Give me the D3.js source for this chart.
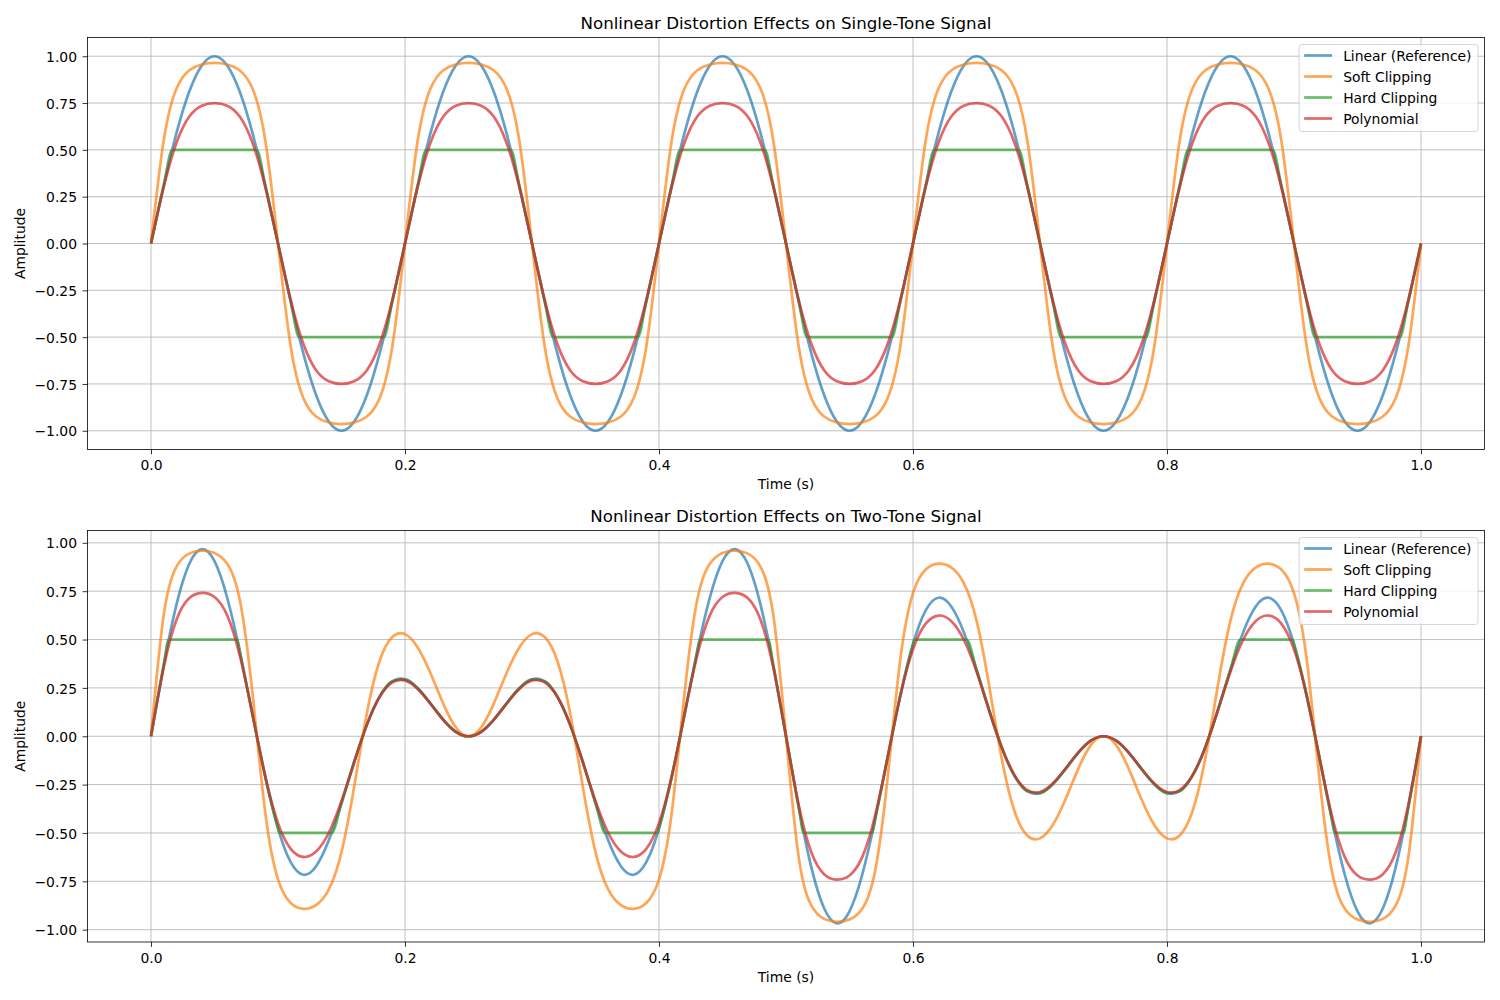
<!DOCTYPE html>
<html>
<head>
<meta charset="utf-8">
<script src="https://cdn.jsdelivr.net/npm/d3@7"></script>
<style>
	body { margin: 0; background: #fff; }
	svg { display: block; font-family: "DejaVu Sans", sans-serif; }
</style>
</head>
<body>
<svg id="chart" width="1500" height="1000"></svg>
<script>
var aSeriesNames = ["Linear (Reference)", "Soft Clipping", "Hard Clipping", "Polynomial"];
var aSeriesColors = ["#1f77b4", "#ff7f0e", "#2ca02c", "#d62728"];
var aTitles = ["Nonlinear Distortion Effects on Single-Tone Signal", "Nonlinear Distortion Effects on Two-Tone Signal"];
var aXTicks = [0, 0.2, 0.4, 0.6, 0.8, 1.0];
var aYTicks = [-1, -0.75, -0.5, -0.25, 0, 0.25, 0.5, 0.75, 1];

// sample times shared by the smooth curves
var aTime = [
	0, 0.01, 0.02, 0.03, 0.04, 0.05, 0.06, 0.07, 0.08, 0.09, 0.1, 0.11, 0.12, 0.13, 0.14, 0.15, 0.16, 0.17, 0.18, 0.19,
	0.2, 0.21, 0.22, 0.23, 0.24, 0.25, 0.26, 0.27, 0.28, 0.29, 0.3, 0.31, 0.32, 0.33, 0.34, 0.35, 0.36, 0.37, 0.38, 0.39,
	0.4, 0.41, 0.42, 0.43, 0.44, 0.45, 0.46, 0.47, 0.48, 0.49, 0.5, 0.51, 0.52, 0.53, 0.54, 0.55, 0.56, 0.57, 0.58, 0.59,
	0.6, 0.61, 0.62, 0.63, 0.64, 0.65, 0.66, 0.67, 0.68, 0.69, 0.7, 0.71, 0.72, 0.73, 0.74, 0.75, 0.76, 0.77, 0.78, 0.79,
	0.8, 0.81, 0.82, 0.83, 0.84, 0.85, 0.86, 0.87, 0.88, 0.89, 0.9, 0.91, 0.92, 0.93, 0.94, 0.95, 0.96, 0.97, 0.98, 0.99,
	1
];

// single tone, top panel
var aSingleLinear = [
	0, 0.309, 0.588, 0.809, 0.951, 1, 0.951, 0.809, 0.588, 0.309, 0, -0.309, -0.588, -0.809, -0.951, -1, -0.951, -0.809, -0.588, -0.309,
	0, 0.309, 0.588, 0.809, 0.951, 1, 0.951, 0.809, 0.588, 0.309, 0, -0.309, -0.588, -0.809, -0.951, -1, -0.951, -0.809, -0.588, -0.309,
	0, 0.309, 0.588, 0.809, 0.951, 1, 0.951, 0.809, 0.588, 0.309, 0, -0.309, -0.588, -0.809, -0.951, -1, -0.951, -0.809, -0.588, -0.309,
	0, 0.309, 0.588, 0.809, 0.951, 1, 0.951, 0.809, 0.588, 0.309, 0, -0.309, -0.588, -0.809, -0.951, -1, -0.951, -0.809, -0.588, -0.309,
	0, 0.309, 0.588, 0.809, 0.951, 1, 0.951, 0.809, 0.588, 0.309, 0, -0.309, -0.588, -0.809, -0.951, -1, -0.951, -0.809, -0.588, -0.309,
	0
];
var aSingleSoft = [
	0, 0.550, 0.826, 0.924, 0.956, 0.964, 0.956, 0.924, 0.826, 0.550, 0, -0.550, -0.826, -0.924, -0.956, -0.964, -0.956, -0.924, -0.826, -0.550,
	0, 0.550, 0.826, 0.924, 0.956, 0.964, 0.956, 0.924, 0.826, 0.550, 0, -0.550, -0.826, -0.924, -0.956, -0.964, -0.956, -0.924, -0.826, -0.550,
	0, 0.550, 0.826, 0.924, 0.956, 0.964, 0.956, 0.924, 0.826, 0.550, 0, -0.550, -0.826, -0.924, -0.956, -0.964, -0.956, -0.924, -0.826, -0.550,
	0, 0.550, 0.826, 0.924, 0.956, 0.964, 0.956, 0.924, 0.826, 0.550, 0, -0.550, -0.826, -0.924, -0.956, -0.964, -0.956, -0.924, -0.826, -0.550,
	0, 0.550, 0.826, 0.924, 0.956, 0.964, 0.956, 0.924, 0.826, 0.550, 0, -0.550, -0.826, -0.924, -0.956, -0.964, -0.956, -0.924, -0.826, -0.550,
	0
];
var aSinglePoly = [
	0, 0.302, 0.537, 0.677, 0.736, 0.75, 0.736, 0.677, 0.537, 0.302, 0, -0.302, -0.537, -0.677, -0.736, -0.75, -0.736, -0.677, -0.537, -0.302,
	0, 0.302, 0.537, 0.677, 0.736, 0.75, 0.736, 0.677, 0.537, 0.302, 0, -0.302, -0.537, -0.677, -0.736, -0.75, -0.736, -0.677, -0.537, -0.302,
	0, 0.302, 0.537, 0.677, 0.736, 0.75, 0.736, 0.677, 0.537, 0.302, 0, -0.302, -0.537, -0.677, -0.736, -0.75, -0.736, -0.677, -0.537, -0.302,
	0, 0.302, 0.537, 0.677, 0.736, 0.75, 0.736, 0.677, 0.537, 0.302, 0, -0.302, -0.537, -0.677, -0.736, -0.75, -0.736, -0.677, -0.537, -0.302,
	0, 0.302, 0.537, 0.677, 0.736, 0.75, 0.736, 0.677, 0.537, 0.302, 0, -0.302, -0.537, -0.677, -0.736, -0.75, -0.736, -0.677, -0.537, -0.302,
	0
];
// hard clipper: extra samples at the corners where it hits +-0.5
var aSingleClipTime = [
	0, 0.01, 0.0167, 0.02, 0.08, 0.0833, 0.09, 0.1, 0.11, 0.1167, 0.12, 0.18, 0.1833, 0.19,
	0.2, 0.21, 0.2167, 0.22, 0.28, 0.2833, 0.29, 0.3, 0.31, 0.3167, 0.32, 0.38, 0.3833, 0.39,
	0.4, 0.41, 0.4167, 0.42, 0.48, 0.4833, 0.49, 0.5, 0.51, 0.5167, 0.52, 0.58, 0.5833, 0.59,
	0.6, 0.61, 0.6167, 0.62, 0.68, 0.6833, 0.69, 0.7, 0.71, 0.7167, 0.72, 0.78, 0.7833, 0.79,
	0.8, 0.81, 0.8167, 0.82, 0.88, 0.8833, 0.89, 0.9, 0.91, 0.9167, 0.92, 0.98, 0.9833, 0.99,
	1
];
var aSingleHard = [
	0, 0.309, 0.5, 0.5, 0.5, 0.5, 0.309, 0, -0.309, -0.5, -0.5, -0.5, -0.5, -0.309,
	0, 0.309, 0.5, 0.5, 0.5, 0.5, 0.309, 0, -0.309, -0.5, -0.5, -0.5, -0.5, -0.309,
	0, 0.309, 0.5, 0.5, 0.5, 0.5, 0.309, 0, -0.309, -0.5, -0.5, -0.5, -0.5, -0.309,
	0, 0.309, 0.5, 0.5, 0.5, 0.5, 0.309, 0, -0.309, -0.5, -0.5, -0.5, -0.5, -0.309,
	0, 0.309, 0.5, 0.5, 0.5, 0.5, 0.309, 0, -0.309, -0.5, -0.5, -0.5, -0.5, -0.309,
	0
];

// two tone, bottom panel
var aTwoLinear = [
	0, 0.367, 0.679, 0.889, 0.967, 0.905, 0.716, 0.436, 0.110, -0.210, -0.476, -0.651, -0.716, -0.672, -0.538, -0.345, -0.133, 0.060, 0.205, 0.284, 0.294, 0.248, 0.170, 0.086, 0.023, 0,
	0.023, 0.086, 0.170, 0.248, 0.294, 0.284, 0.205, 0.060, -0.133, -0.345, -0.538, -0.672, -0.716, -0.651, -0.476, -0.210, 0.110, 0.436, 0.716, 0.905, 0.967, 0.889, 0.679, 0.367, 0,
	-0.367, -0.679, -0.889, -0.967, -0.905, -0.716, -0.436, -0.110, 0.210, 0.476, 0.651, 0.716, 0.672, 0.538, 0.345, 0.133, -0.060, -0.205, -0.284, -0.294, -0.248, -0.170, -0.086, -0.023, 0,
	-0.023, -0.086, -0.170, -0.248, -0.294, -0.284, -0.205, -0.060, 0.133, 0.345, 0.538, 0.672, 0.716, 0.651, 0.476, 0.210, -0.110, -0.436, -0.716, -0.905, -0.967, -0.889, -0.679, -0.367, 0
];
var aTwoSoft = [
	0, 0.626, 0.876, 0.944, 0.959, 0.948, 0.892, 0.702, 0.216, -0.397, -0.740, -0.862, -0.892, -0.873, -0.792, -0.599, -0.260, 0.120, 0.389, 0.513, 0.528, 0.459, 0.327, 0.170, 0.046, 0,
	0.046, 0.170, 0.327, 0.459, 0.528, 0.513, 0.389, 0.120, -0.260, -0.599, -0.792, -0.873, -0.892, -0.862, -0.740, -0.397, 0.216, 0.702, 0.892, 0.948, 0.959, 0.944, 0.876, 0.626, 0,
	-0.626, -0.876, -0.944, -0.959, -0.948, -0.892, -0.702, -0.216, 0.397, 0.740, 0.862, 0.892, 0.873, 0.792, 0.599, 0.260, -0.120, -0.389, -0.513, -0.528, -0.459, -0.327, -0.170, -0.046, 0,
	-0.046, -0.170, -0.327, -0.459, -0.528, -0.513, -0.389, -0.120, 0.260, 0.599, 0.792, 0.873, 0.892, 0.862, 0.740, 0.397, -0.216, -0.702, -0.892, -0.948, -0.959, -0.944, -0.876, -0.626, 0
];
var aTwoPoly = [
	0, 0.355, 0.601, 0.713, 0.741, 0.720, 0.625, 0.415, 0.110, -0.208, -0.449, -0.582, -0.624, -0.596, -0.499, -0.335, -0.133, 0.060, 0.203, 0.278, 0.288, 0.244, 0.168, 0.086, 0.023, 0,
	0.023, 0.086, 0.168, 0.244, 0.288, 0.278, 0.203, 0.060, -0.133, -0.335, -0.499, -0.596, -0.624, -0.582, -0.449, -0.208, 0.110, 0.415, 0.625, 0.720, 0.741, 0.713, 0.601, 0.355, 0,
	-0.355, -0.601, -0.713, -0.741, -0.720, -0.625, -0.415, -0.110, 0.208, 0.449, 0.582, 0.624, 0.596, 0.499, 0.335, 0.133, -0.060, -0.203, -0.278, -0.288, -0.244, -0.168, -0.086, -0.023, 0,
	-0.023, -0.086, -0.168, -0.244, -0.288, -0.278, -0.203, -0.060, 0.133, 0.335, 0.499, 0.596, 0.624, 0.582, 0.449, 0.208, -0.110, -0.415, -0.625, -0.720, -0.741, -0.713, -0.601, -0.355, 0
];
var aTwoClipTime = [
	0, 0.01, 0.014, 0.0679, 0.07, 0.08, 0.09, 0.1, 0.1011, 0.1422, 0.15, 0.16, 0.17, 0.18, 0.19, 0.2, 0.21, 0.22, 0.23, 0.24, 0.25,
	0.26, 0.27, 0.28, 0.29, 0.3, 0.31, 0.32, 0.33, 0.34, 0.35, 0.3578, 0.3989, 0.4, 0.41, 0.42, 0.43, 0.4321, 0.486, 0.49, 0.5,
	0.51, 0.514, 0.5679, 0.57, 0.58, 0.59, 0.6, 0.6011, 0.6422, 0.65, 0.66, 0.67, 0.68, 0.69, 0.7, 0.71, 0.72, 0.73, 0.74, 0.75,
	0.76, 0.77, 0.78, 0.79, 0.8, 0.81, 0.82, 0.83, 0.84, 0.85, 0.8578, 0.8989, 0.9, 0.91, 0.92, 0.93, 0.9321, 0.986, 0.99, 1
];
var aTwoHard = [
	0, 0.367, 0.5, 0.5, 0.436, 0.110, -0.210, -0.476, -0.5, -0.5, -0.345, -0.133, 0.060, 0.205, 0.284, 0.294, 0.248, 0.170, 0.086, 0.023, 0,
	0.023, 0.086, 0.170, 0.248, 0.294, 0.284, 0.205, 0.060, -0.133, -0.345, -0.5, -0.5, -0.476, -0.210, 0.110, 0.436, 0.5, 0.5, 0.367, 0,
	-0.367, -0.5, -0.5, -0.436, -0.110, 0.210, 0.476, 0.5, 0.5, 0.345, 0.133, -0.060, -0.205, -0.284, -0.294, -0.248, -0.170, -0.086, -0.023, 0,
	-0.023, -0.086, -0.170, -0.248, -0.294, -0.284, -0.205, -0.060, 0.133, 0.345, 0.5, 0.5, 0.476, 0.210, -0.110, -0.436, -0.5, -0.5, -0.367, 0
];

var oLayout = {
	left: 87.5,
	right: 1484.5,
	panels: [{top: 37.5, bottom: 449.5}, {top: 530.5, bottom: 942}]
};
var fTick = 4.86;

function padDomain(aExt) {
	var fPad = (aExt[1] - aExt[0]) * 0.05;
	return [aExt[0] - fPad, aExt[1] + fPad];
}

function drawPanel($svg, oBox, sTitle, aSeries) {
	var x = d3.scaleLinear()
			.domain(padDomain(d3.extent(d3.merge(aSeries.map(function (s) { return s.time; })))))
			.range([oLayout.left, oLayout.right]),
		y = d3.scaleLinear()
			.domain(padDomain(d3.extent(d3.merge(aSeries.map(function (s) { return s.values; })))))
			.range([oBox.bottom, oBox.top]),
		$g = $svg.append("g");

	// grid
	$g.append("g").selectAll("line").data(aXTicks).enter().append("line")
		.attr("x1", function (d) { return x(d); })
		.attr("x2", function (d) { return x(d); })
		.attr("y1", oBox.top).attr("y2", oBox.bottom)
		.attr("stroke", "#b0b0b0").attr("stroke-width", 0.8);
	$g.append("g").selectAll("line").data(aYTicks).enter().append("line")
		.attr("y1", function (d) { return y(d); })
		.attr("y2", function (d) { return y(d); })
		.attr("x1", oLayout.left).attr("x2", oLayout.right)
		.attr("stroke", "#b0b0b0").attr("stroke-width", 0.8);

	// curves: natural spline on the even grid, monotone for the clipper so the flats stay flat
	$g.append("g").selectAll("path").data(aSeries).enter().append("path")
		.attr("d", function (s) {
			return d3.line()
				.x(function (d, j) { return x(s.time[j]); })
				.y(function (d) { return y(d); })
				.curve(s.clip ? d3.curveMonotoneX : d3.curveNatural)(s.values);
		})
		.attr("fill", "none")
		.attr("stroke", function (d, i) { return aSeriesColors[i]; })
		.attr("stroke-opacity", 0.7)
		.attr("stroke-width", 2.7)
		.attr("stroke-linejoin", "round");

	// axes
	var $xAxis = $g.append("g")
		.attr("transform", "translate(0," + oBox.bottom + ")")
		.call(d3.axisBottom(x).tickValues(aXTicks).tickFormat(d3.format(".1f"))
			.tickSize(fTick).tickSizeOuter(0).tickPadding(5.8));
	var $yAxis = $g.append("g")
		.attr("transform", "translate(" + oLayout.left + ",0)")
		.call(d3.axisLeft(y).tickValues(aYTicks).tickFormat(d3.format(".2f"))
			.tickSize(fTick).tickSizeOuter(0).tickPadding(5.6));
	[$xAxis, $yAxis].forEach(function ($a) {
		$a.select(".domain").remove();
		$a.selectAll("line").attr("stroke", "#000").attr("stroke-width", 0.8);
		$a.selectAll("text").attr("font-size", 13.9).attr("fill", "#000")
			.attr("font-family", "DejaVu Sans");
	});
	$yAxis.selectAll("text").attr("dy", "0.37em");

	$g.append("rect")
		.attr("x", oLayout.left).attr("y", oBox.top)
		.attr("width", oLayout.right - oLayout.left)
		.attr("height", oBox.bottom - oBox.top)
		.attr("fill", "none").attr("stroke", "#000").attr("stroke-width", 0.8);

	// labels
	$g.append("text")
		.attr("x", (oLayout.left + oLayout.right) / 2).attr("y", oBox.top - 8.3)
		.attr("text-anchor", "middle").attr("font-size", 16.67)
		.text(sTitle);
	$g.append("text")
		.attr("x", (oLayout.left + oLayout.right) / 2).attr("y", oBox.bottom + 39.5)
		.attr("text-anchor", "middle").attr("font-size", 13.9)
		.text("Time (s)");
	$g.append("text")
		.attr("transform", "translate(25," + (oBox.top + oBox.bottom) / 2 + ") rotate(-90)")
		.attr("text-anchor", "middle").attr("font-size", 13.9)
		.text("Amplitude");

	drawLegend($g, oBox);
}

function drawLegend($g, oBox) {
	var $leg = $g.append("g"),
		$frame = $leg.append("rect"),
		iRow = 21,
		fMaxW = 0;

	var $rows = $leg.selectAll("g.row").data(aSeriesNames).enter().append("g")
		.attr("class", "row")
		.attr("transform", function (d, i) { return "translate(0," + (11 + i * iRow) + ")"; });
	$rows.append("line")
		.attr("x1", 5).attr("x2", 33)
		.attr("stroke", function (d, i) { return aSeriesColors[i]; })
		.attr("stroke-opacity", 0.7).attr("stroke-width", 2.7);
	$rows.append("text")
		.attr("x", 44).attr("dy", "0.36em")
		.attr("font-size", 13.9)
		.text(function (d) { return d; })
		.each(function () { fMaxW = Math.max(fMaxW, this.getComputedTextLength()); });

	var fW = 44 + fMaxW + 6.5,
		fH = 87;
	$frame.attr("width", fW).attr("height", fH).attr("rx", 2.8)
		.attr("fill", "#fff").attr("fill-opacity", 0.8)
		.attr("stroke", "#cccccc").attr("stroke-width", 0.8);
	$leg.attr("transform", "translate(" + (oLayout.right - 6.5 - fW) + "," + (oBox.top + 7) + ")");
}

var $svg = d3.select("#chart");
$svg.append("rect").attr("width", 1500).attr("height", 1000).attr("fill", "#fff");

drawPanel($svg, oLayout.panels[0], aTitles[0], [
	{time: aTime, values: aSingleLinear},
	{time: aTime, values: aSingleSoft},
	{time: aSingleClipTime, values: aSingleHard, clip: true},
	{time: aTime, values: aSinglePoly}
]);
drawPanel($svg, oLayout.panels[1], aTitles[1], [
	{time: aTime, values: aTwoLinear},
	{time: aTime, values: aTwoSoft},
	{time: aTwoClipTime, values: aTwoHard, clip: true},
	{time: aTime, values: aTwoPoly}
]);
</script>
</body>
</html>
